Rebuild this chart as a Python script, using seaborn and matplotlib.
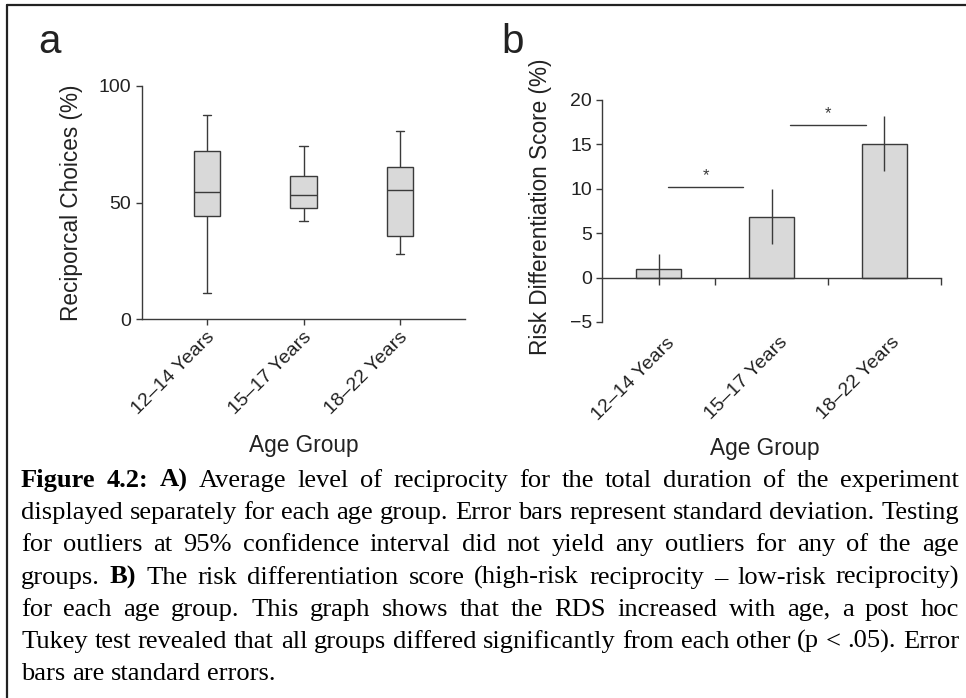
import numpy as np
import pandas as pd
import matplotlib
matplotlib.use("Agg")
import matplotlib.pyplot as plt
import matplotlib.transforms as mtransforms
from matplotlib.lines import Line2D
import seaborn as sns

# ---------------- data ----------------
groups = ["12–14 Years", "15–17 Years", "18–22 Years"]

# panel a: box plot summary (min, Q1, median, Q3, max) of reciprocal choices (%)
recip_min = [11.1, 42.1, 28.1]
recip_q1 = [44.3, 47.7, 35.7]
recip_median = [54.6, 53.1, 55.4]
recip_q3 = [72.0, 61.3, 65.3]
recip_max = [87.6, 74.3, 80.8]

# panel b: risk differentiation score (%) mean and standard error
rds_mean = [0.95, 6.85, 15.05]
rds_se = [1.75, 3.1, 3.1]

# significance brackets in panel b
sig_start = [0.08, 1.16]
sig_end = [0.75, 1.84]
sig_y = [10.2, 17.15]
sig_text = ["*", "*"]

caption_lines = [
    "**Figure** **4.2:** **A)** Average level of reciprocity for the total duration of the experiment",
    "displayed separately for each age group. Error bars represent standard deviation. Testing",
    "for outliers at 95% confidence interval did not yield any outliers for any of the age",
    "groups. **B)** The risk differentiation score (high-risk reciprocity – low-risk reciprocity)",
    "for each age group. This graph shows that the RDS increased with age, a post hoc",
    "Tukey test revealed that all groups differed significantly from each other (p < .05). Error",
    "bars are standard errors.",
]

# ---------------- style ----------------
sns.set_style("ticks")
LC = "#3a3a3a"
FILL = "#d9d9d9"
TXT = "#222222"
plt.rcParams["font.family"] = ["Liberation Sans", "DejaVu Sans"]
plt.rcParams.update({
    "axes.edgecolor": LC, "xtick.color": LC, "ytick.color": LC,
    "axes.linewidth": 1.0, "text.color": TXT, "axes.labelcolor": TXT,
    "xtick.labelcolor": TXT, "ytick.labelcolor": TXT,
})

W, H = 966, 698
fig = plt.figure(figsize=(W / 100, H / 100), dpi=100)


def px_axes(x0, y0, x1, y1):
    return fig.add_axes([x0 / W, 1 - y1 / H, (x1 - x0) / W, (y1 - y0) / H])


ax1 = px_axes(142, 86, 465, 319)
ax2 = px_axes(602.3, 100, 940.7, 322)

# ---------------- panel a ----------------
vals = np.column_stack([recip_min, recip_q1, recip_median, recip_q3, recip_max])
df_a = pd.DataFrame({"group": np.repeat(groups, vals.shape[1]), "value": vals.ravel()})
sns.boxplot(data=df_a, x="group", y="value", ax=ax1, color=FILL, linecolor=LC,
            linewidth=1.0, width=0.27, whis=(0, 100), saturation=1,
            capwidths=0.085, showfliers=False)
ax1.set_xlim(-0.67, 2.67)
ax1.set_ylim(0, 100)
ax1.set_yticks([0, 50, 100])
sns.despine(ax=ax1)
ax1.tick_params(axis="both", direction="out", length=4, width=1, labelsize=14)
ax1.tick_params(axis="y", pad=4)
ax1.tick_params(axis="x", pad=7)
ax1.set_xlabel("Age Group", fontsize=16.3)
ax1.xaxis.set_label_coords(0.5, (319 - 434) / 233)
ax1.set_ylabel("Reciporcal Choices (%)", fontsize=16.3)
ax1.yaxis.set_label_coords((83 - 142) / 323, 0.5)

# ---------------- panel b ----------------
df_b = pd.DataFrame({"group": groups, "rds": rds_mean})
sns.barplot(data=df_b, x="group", y="rds", ax=ax2, color=FILL, edgecolor=LC,
            linewidth=1.0, width=0.4, saturation=1, errorbar=None)
ax2.errorbar(x=np.arange(len(groups)), y=rds_mean, yerr=rds_se, fmt="none",
             ecolor=LC, elinewidth=1.0, capsize=0, zorder=5)
ax2.set_xlim(-0.5, 2.5)
ax2.set_ylim(-5, 20)
ax2.set_yticks([-5, 0, 5, 10, 15, 20])
sns.despine(ax=ax2)
ax2.spines["bottom"].set_position(("data", 0))
ax2.set_xticks([0.5, 1.5, 2.5], minor=True)
ax2.tick_params(axis="x", which="major", length=0, pad=45, labelsize=14)
ax2.tick_params(axis="x", which="minor", length=5, width=1, direction="out")
ax2.tick_params(axis="y", length=4, width=1, pad=3.5, labelsize=14, direction="out")
for xs, xe, y, t in zip(sig_start, sig_end, sig_y, sig_text):
    ax2.plot([xs, xe], [y, y], color=LC, lw=1.0)
    ax2.text((xs + xe) / 2, y + 0.8, t, ha="center", va="baseline", fontsize=12, color=LC)
ax2.set_xlabel("Age Group", fontsize=16.3)
ax2.xaxis.set_label_coords(0.48, (322 - 437) / 222)
ax2.set_ylabel("Risk Differentiation Score (%)", fontsize=16.3)
ax2.yaxis.set_label_coords(-0.15, 0.52)

# rotated tick labels with small offsets
for ax, dx in ((ax1, 5), (ax2, 13)):
    for lab in ax.get_xticklabels():
        lab.set_rotation(45)
        lab.set_ha("right")
        lab.set_va("center")
        lab.set_rotation_mode("anchor")
        lab.set_transform(lab.get_transform() +
                          mtransforms.ScaledTranslation(dx / 100, 0, fig.dpi_scale_trans))

# panel letters
fig.text(38 / W, 1 - 53 / H, "a", fontsize=29, va="baseline", color=TXT)
fig.text(501 / W, 1 - 53 / H, "b", fontsize=29, va="baseline", color=TXT)

# frame
fig.add_artist(Line2D([7 / W, 1], [1 - 5 / H, 1 - 5 / H], transform=fig.transFigure,
                      color="#222222", lw=1.6))
fig.add_artist(Line2D([7 / W, 7 / W], [0, 1 - 5 / H], transform=fig.transFigure,
                      color="#222222", lw=1.6))

# ---------------- caption (justified) ----------------
renderer = fig.canvas.get_renderer()
serif = ["Liberation Serif", "DejaVu Serif"]
x_left, x_right = 21, 959
base0, step = 487, 32.2


def parse(line):
    out = []
    for w in line.split():
        if w.startswith("**") and w.endswith("**"):
            out.append((w[2:-2], True))
        else:
            out.append((w, False))
    return out


def natural_width(size):
    # width of the fullest line ("Tukey ...") typeset with plain spaces
    t = fig.text(0, 0, caption_lines[5], fontsize=size, family=serif)
    w = t.get_window_extent(renderer).width
    t.remove()
    return w


cap_size = 16 * (x_right - x_left - 2) / natural_width(16)

probe1 = fig.text(0, 0, "a a", fontsize=cap_size, family=serif)
probe2 = fig.text(0, 0, "aa", fontsize=cap_size, family=serif)
space_w = probe1.get_window_extent(renderer).width - probe2.get_window_extent(renderer).width
probe1.remove()
probe2.remove()

for i, line in enumerate(caption_lines):
    tokens = parse(line)
    y = 1 - (base0 + step * i) / H
    texts = [fig.text(0, y, w, fontsize=cap_size, family=serif, color="black",
                      fontweight="bold" if b else "normal", va="baseline", ha="left")
             for w, b in tokens]
    widths = [t.get_window_extent(renderer).width for t in texts]
    if i < len(caption_lines) - 1 and len(texts) > 1:
        gap = (x_right - x_left - sum(widths)) / (len(texts) - 1)
    else:
        gap = space_w
    x = x_left
    for t, w in zip(texts, widths):
        t.set_x(x / W)
        x += w + gap

fig.savefig("out.png", dpi=100)
